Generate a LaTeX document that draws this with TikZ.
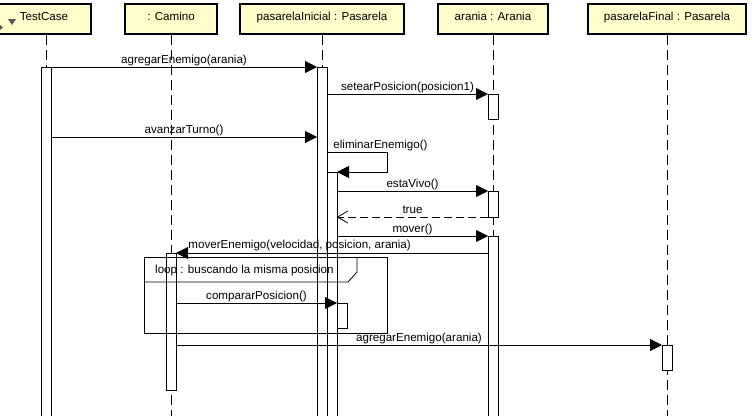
\documentclass[tikz,border=0pt]{standalone}
\usepackage{fontspec}
\setmainfont{Liberation Sans}
\usetikzlibrary{arrows.meta, positioning}
\definecolor{objfill}{HTML}{FFFFCC}
\tikzset{
	x=1pt, y=-1pt,
	every node/.style={font=\fontsize{11.6}{14}\selectfont},
	object/.style={draw, line width=1.6pt, fill=objfill, minimum height=30pt, text height=8.3pt, text depth=6pt, inner sep=0pt},
	lifeline/.style={line width=0.8pt, dash pattern=on 10pt off 5pt},
	activation/.style={draw, line width=0.8pt, fill=white, anchor=north west, minimum width=10pt, inner sep=0pt, outer sep=0pt},
	call/.style={line width=0.8pt, -{Triangle[length=12pt, width=12pt]}},
	reply/.style={line width=0.8pt, dash pattern=on 8pt off 4pt, -{Straight Barb[length=10pt, width=12pt]}},
	msg/.style={anchor=base, yshift=4pt, inner sep=0pt},
	loopframe/.style={draw, line width=0.8pt}
}

\begin{document}
\begin{tikzpicture}
	\useasboundingbox (0,0) rectangle (755,415);

	% objects
	\node[object, minimum width=94pt] (testcase) at (44,19) {TestCase};
	\node[object, minimum width=92pt] (camino) at (171,19) {: Camino};
	\node[object, minimum width=164pt] (pInicial) at (322,19) {pasarelaInicial : Pasarela};
	\node[object, minimum width=110pt] (arania) at (493,19) {arania : Arania};
	\node[object, minimum width=158pt] (pFinal) at (667,19) {pasarelaFinal : Pasarela};
	\fill[black!65] (8,19) -- (16,19) -- (12,25) -- cycle;
	\fill[black!65] (0,25) -- (3,27.5) -- (0,30) -- cycle;

	% lifelines
	\foreach \name/\x in {testcase/46, camino/171, pInicial/322, arania/493, pFinal/667} {
		\coordinate (\name-end) at (\x,420);
		\draw[lifeline] (\name.south -| \name-end) -- (\name-end);
	}

	% activations
	\node[activation, minimum height=360pt] (tcAct) at (41,67) {};
	\node[activation, minimum height=360pt] (piAct) at (317,67) {};
	\node[activation, minimum height=255pt] (piSelf) at (327,172) {};
	\node[activation, minimum height=25pt] (arAct1) at (488,94) {};
	\node[activation, minimum height=26pt] (arAct2) at (488,191) {};
	\node[activation, minimum height=190pt] (arAct3) at (488,236) {};
	\node[activation, minimum height=137pt] (caAct) at (166,253) {};
	\node[activation, minimum height=25pt] (piComp) at (337,303) {};
	\node[activation, minimum height=25pt] (pfAct) at (662,345) {};

	% messages
	\coordinate (turn) at (0,137);
	\coordinate (elim) at (0,152);
	\draw[call] (tcAct.north east) -- node[msg]{agregarEnemigo(arania)} (piAct.north west);
	\draw[call] (piAct.east |- arAct1.north) -- node[msg]{setearPosicion(posicion1)} (arAct1.north west);
	\draw[call] (tcAct.east |- turn) -- node[msg]{avanzarTurno()} (piAct.west |- turn);
	\draw[call] (piAct.east |- elim) -- node[msg, pos=0, anchor=base west, xshift=6pt]{eliminarEnemigo()} ++(60,0) |- (piSelf.north east);
	\draw[call] (piSelf.east |- arAct2.north) -- node[msg]{estaVivo()} (arAct2.north west);
	\draw[reply] (arAct2.south west) -- node[msg]{true} (piSelf.east |- arAct2.south);
	\draw[call] (piSelf.east |- arAct3.north) -- node[msg]{mover()} (arAct3.north west);
	\draw[call] (arAct3.west |- caAct.north) -- node[msg, pos=1, anchor=base west, xshift=12pt, yshift=1pt]{moverEnemigo(velocidad, posicion, arania)} (caAct.north east);
	\draw[call] (caAct.east |- piComp.north) -- node[msg]{compararPosicion()} (piComp.north west);
	\draw[call] (caAct.east |- pfAct.north) -- node[msg]{agregarEnemigo(arania)} (pfAct.north west);

	% loop
	\node[loopframe, anchor=north west, minimum width=243pt, minimum height=76pt, inner sep=0pt, outer sep=0pt] (loop) at (144,257) {};
	\draw[loopframe] (loop.north west) ++(0,25) -- ++(204,0) -- ++(9,-10) -- ++(0,-15);
	\node[anchor=base west, inner sep=0pt] (loopLabel) at (155,273) {loop : buscando la misma posicion};
\end{tikzpicture}
\end{document}
